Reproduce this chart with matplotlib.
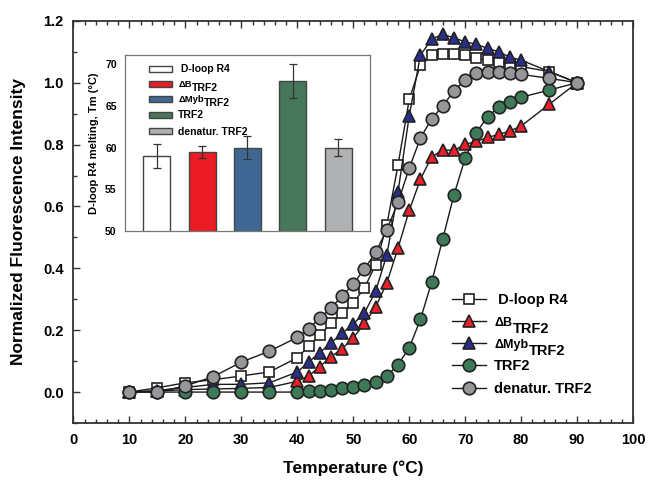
import matplotlib
matplotlib.use("Agg")
import matplotlib.pyplot as plt
from matplotlib.ticker import MultipleLocator
import numpy as np

plt.rcParams['font.family'] = ['Liberation Sans', 'DejaVu Sans']
plt.rcParams['font.weight'] = 'bold'

# Melting curves: temperature (°C) vs normalized fluorescence
temperature = [10, 15, 20, 25, 30, 35, 40, 42, 44, 46, 48, 50, 52, 54, 56, 58,
               60, 62, 64, 66, 68, 70, 72, 74, 76, 78, 80, 85, 90]

dloop_r4 = [0.0, 0.014, 0.03, 0.04, 0.052, 0.065, 0.111, 0.148, 0.183, 0.222,
            0.255, 0.288, 0.337, 0.412, 0.541, 0.735, 0.946, 1.057, 1.088,
            1.092, 1.092, 1.089, 1.079, 1.073, 1.068, 1.062, 1.052, 1.036, 1.0]

delta_b = [0.0, 0.003, 0.008, 0.01, 0.012, 0.015, 0.035, 0.052, 0.082, 0.114,
           0.14, 0.175, 0.222, 0.275, 0.353, 0.466, 0.587, 0.688, 0.76,
           0.783, 0.781, 0.801, 0.81, 0.823, 0.833, 0.844, 0.86, 0.93, 1.0]

delta_myb = [0.0, 0.005, 0.015, 0.025, 0.025, 0.03, 0.065, 0.097, 0.127, 0.159,
             0.19, 0.22, 0.256, 0.326, 0.444, 0.648, 0.893, 1.089, 1.141,
             1.156, 1.145, 1.132, 1.124, 1.111, 1.1, 1.082, 1.073, 1.036, 1.0]

trf2 = [0.0, 0.0, 0.0, 0.0, 0.0, 0.0, 0.0, 0.002, 0.004, 0.008, 0.012, 0.017,
        0.022, 0.031, 0.052, 0.089, 0.143, 0.235, 0.355, 0.496, 0.638, 0.756,
        0.839, 0.89, 0.921, 0.939, 0.953, 0.976, 1.0]

denatured_trf2 = [0.0, 0.0, 0.02, 0.05, 0.097, 0.132, 0.177, 0.205, 0.238,
                  0.272, 0.31, 0.35, 0.398, 0.452, 0.525, 0.613, 0.724, 0.821,
                  0.883, 0.925, 0.974, 1.009, 1.03, 1.036, 1.036, 1.03, 1.027,
                  1.014, 1.0]

# Series names; mutant names get a lowered "TRF2" suffix drawn separately
series_labels = [' D-loop R4', 'ΔB', 'ΔMyb', 'TRF2', 'denatur. TRF2']
suffixes = {1: 'TRF2', 2: 'TRF2'}

# Melting temperatures (inset)
tm_values = [59.0, 59.5, 60.0, 68.0, 60.0]
tm_errors = [1.4, 0.7, 1.4, 2.0, 1.0]

curve_series = [dloop_r4, delta_b, delta_myb, trf2, denatured_trf2]
curve_markers = [('s', 'white', 7.5), ('^', '#e8202a', 9), ('^', '#2a2f8c', 9),
                 ('o', '#3f7a58', 9), ('o', '#96979b', 9)]
bar_colors = ['white', '#ec1c24', '#3e6893', '#46775a', '#b0b1b3']

fig = plt.figure(figsize=(6.48, 4.84), dpi=100)
ax = fig.add_axes([0.1134, 0.126, 0.8636, 0.831])

for values, label, (marker, color, size) in zip(curve_series, series_labels,
                                                curve_markers):
    ax.plot(temperature, values, color='#1a1a1a', lw=1.0, marker=marker,
            markersize=size, markerfacecolor=color, markeredgecolor='#222222',
            markeredgewidth=1.2, label=label)

ax.set_xlim(0, 100)
ax.set_ylim(-0.1, 1.2)
ax.xaxis.set_major_locator(MultipleLocator(10))
ax.xaxis.set_minor_locator(MultipleLocator(2))
ax.yaxis.set_minor_locator(MultipleLocator(0.1))
ax.set_yticks(np.arange(0, 1.21, 0.2))
ax.yaxis.set_major_formatter(plt.FuncFormatter(lambda v, p: f'{v:.1f}'))
ax.tick_params(axis='both', which='major', direction='in', length=5, width=1,
               labelsize=10.5, top=True, right=False, pad=7, color='#333333')
ax.tick_params(axis='both', which='minor', direction='in', length=3, width=1,
               top=True, right=False, color='#333333')
for spine in ax.spines.values():
    spine.set_linewidth(1.3)
    spine.set_color('#333333')

ax.set_xlabel('Temperature (°C)', fontsize=12.5, fontweight='bold', labelpad=10)
ax.set_ylabel('Normalized Fluorescence Intensity', fontsize=12.5,
              fontweight='bold', labelpad=12)

main_leg = ax.legend(loc='lower right', bbox_to_anchor=(0.942, 0.045),
                     frameon=False, fontsize=10.5, handlelength=2.3,
                     labelspacing=0.6, handletextpad=0.6, borderaxespad=0.2)

# Inset: melting temperatures
inset = fig.add_axes([125 / 648, 1 - 231 / 484, 245 / 648, 176 / 484])
positions = np.arange(1, len(tm_values) + 1)
inset.bar(positions, tm_values, width=0.6, color=bar_colors,
          edgecolor='#444444', linewidth=1.0, label=series_labels)
inset.errorbar(positions, tm_values, yerr=tm_errors, fmt='none',
               ecolor='#333333', elinewidth=0.9, capsize=3, capthick=0.9)
inset.set_xlim(0.3, 5.7)
inset.set_ylim(50, 71.1)
inset.set_xticks([])
inset.set_yticks([50, 55, 60, 65, 70])
inset.tick_params(axis='y', length=0, labelsize=7.5, pad=6)
for spine in inset.spines.values():
    spine.set_linewidth(0.9)
    spine.set_color('#777777')
inset.set_ylabel('D-loop R4 melting, Tm (°C)', fontsize=8, fontweight='bold',
                 labelpad=4)
inset_leg = inset.legend(loc='upper left', bbox_to_anchor=(0.06, 1.0),
                         frameon=False, fontsize=7.5, handlelength=2.2,
                         handleheight=0.55, labelspacing=0.58,
                         handletextpad=0.6)


def add_subscripts(legend, size, prefix_size, drop_px):
    """Shrink the mutant prefix and append a lowered 'TRF2' after it."""
    texts = legend.get_texts()
    for idx in suffixes:
        texts[idx].set_fontsize(prefix_size)
    fig.canvas.draw()
    renderer = fig.canvas.get_renderer()
    for idx, suffix in suffixes.items():
        bb = texts[idx].get_window_extent(renderer)
        descent = 0.21 * prefix_size * fig.dpi / 72
        x = bb.x1 + 0.5
        y = bb.y0 + descent - drop_px
        fig.text(x / fig.bbox.width, y / fig.bbox.height, suffix,
                 fontsize=size, fontweight='bold', ha='left', va='baseline')


add_subscripts(main_leg, 10.5, 9.0, 6.5)
add_subscripts(inset_leg, 7.5, 6.8, 4.0)

fig.savefig('out.png', dpi=100)
